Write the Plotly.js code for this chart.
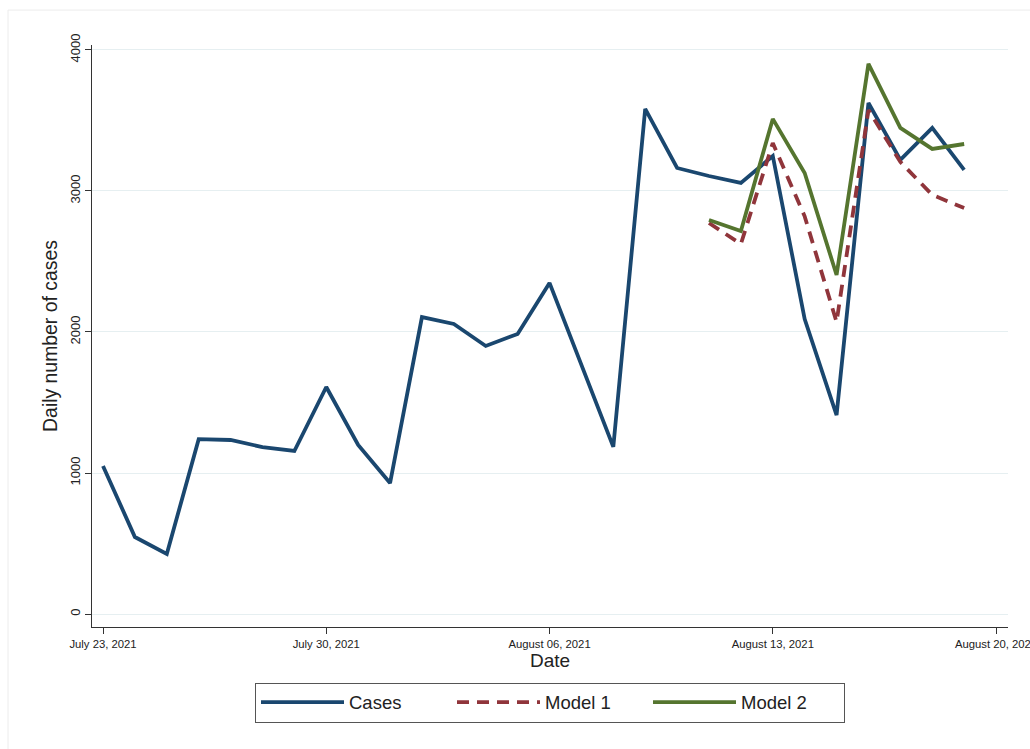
<!DOCTYPE html>
<html>
<head>
<meta charset="utf-8">
<script src="https://cdn.plot.ly/plotly-3.0.1.min.js"></script>
<style>html,body{margin:0;padding:0;background:#fff;}#chart{width:1030px;height:749px;}</style>
</head>
<body>
<div id="chart"></div>
<script>
const caseDates = ["2021-07-23","2021-07-24","2021-07-25","2021-07-26","2021-07-27","2021-07-28","2021-07-29","2021-07-30","2021-07-31","2021-08-01","2021-08-02","2021-08-03","2021-08-04","2021-08-05","2021-08-06","2021-08-07","2021-08-08","2021-08-09","2021-08-10","2021-08-11","2021-08-12","2021-08-13","2021-08-14","2021-08-15","2021-08-16","2021-08-17","2021-08-18","2021-08-19"];
const cases = [1050,546,426,1240,1234,1184,1156,1610,1199,929,2106,2057,1901,1986,2348,1766,1185,3582,3163,3106,3057,3248,2092,1411,3624,3220,3447,3149];
const modelDates = ["2021-08-11","2021-08-12","2021-08-13","2021-08-14","2021-08-15","2021-08-16","2021-08-17","2021-08-18","2021-08-19"];
const model1 = [2773,2624,3340,2820,2071,3574,3206,2972,2879];
const model2 = [2794,2716,3511,3128,2404,3901,3447,3298,3333];
const xTickVals = ["2021-07-23","2021-07-30","2021-08-06","2021-08-13","2021-08-20"];
const xTickText = ["July 23, 2021","July 30, 2021","August 06, 2021","August 13, 2021","August 20, 2021"];
const yTickVals = [0,1000,2000,3000,4000];

const traces = [
  {x: caseDates, y: cases, name: "Cases", type: "scatter", mode: "lines",
   line: {color: "#1a476f", width: 3.8}},
  {x: modelDates, y: model1, name: "Model 1", type: "scatter", mode: "lines",
   line: {color: "#90353b", width: 3.8, dash: "12px,8px"}},
  {x: modelDates, y: model2, name: "Model 2", type: "scatter", mode: "lines",
   line: {color: "#55752f", width: 3.8}}
];

const layout = {
  width: 1030, height: 749,
  margin: {l: 92, r: 22, t: 45, b: 122},
  paper_bgcolor: "#ffffff", plot_bgcolor: "#ffffff",
  font: {family: "Liberation Sans, Arial, sans-serif", color: "#222"},
  showlegend: true,
  xaxis: {
    type: "date",
    range: ["2021-07-22 15:43", "2021-08-20 09:00"],
    tickvals: xTickVals, ticktext: xTickText,
    tickfont: {size: 11.3, color: "#222"},
    ticklabeloverflow: "allow",
    ticks: "outside", ticklen: 6, tickcolor: "#333", tickwidth: 1,
    showgrid: false, zeroline: false,
    showline: true, linecolor: "#333", linewidth: 1.2,
    title: {text: "Date", font: {size: 19, color: "#222"}, standoff: 4}
  },
  yaxis: {
    range: [-92, 4035],
    tickvals: yTickVals,
    tickangle: -90,
    tickfont: {size: 13, color: "#222"},
    ticks: "outside", ticklen: 6, tickcolor: "#333", tickwidth: 1,
    showgrid: true, gridcolor: "#e6eff1", gridwidth: 1,
    zeroline: false,
    showline: true, linecolor: "#333", linewidth: 1.2,
    title: {text: "Daily number of cases", font: {size: 19.4, color: "#222"}, standoff: 4}
  },
  legend: {
    orientation: "h",
    x: 0.5, xanchor: "center",
    y: -0.0957, yanchor: "top",
    bordercolor: "#555", borderwidth: 1,
    bgcolor: "#ffffff",
    font: {size: 18.5, color: "#222"},
    itemwidth: 83,
    entrywidth: 98
  },
  shapes: [
    {type: "rect", xref: "paper", yref: "paper", x0: -0.0917, x1: 1.2, y0: -0.5, y1: 1.060,
     line: {color: "#ececec", width: 1}, fillcolor: "rgba(0,0,0,0)", layer: "below"}
  ]
};

Plotly.newPlot("chart", traces, layout, {displayModeBar: false, staticPlot: true});
</script>
</body>
</html>
